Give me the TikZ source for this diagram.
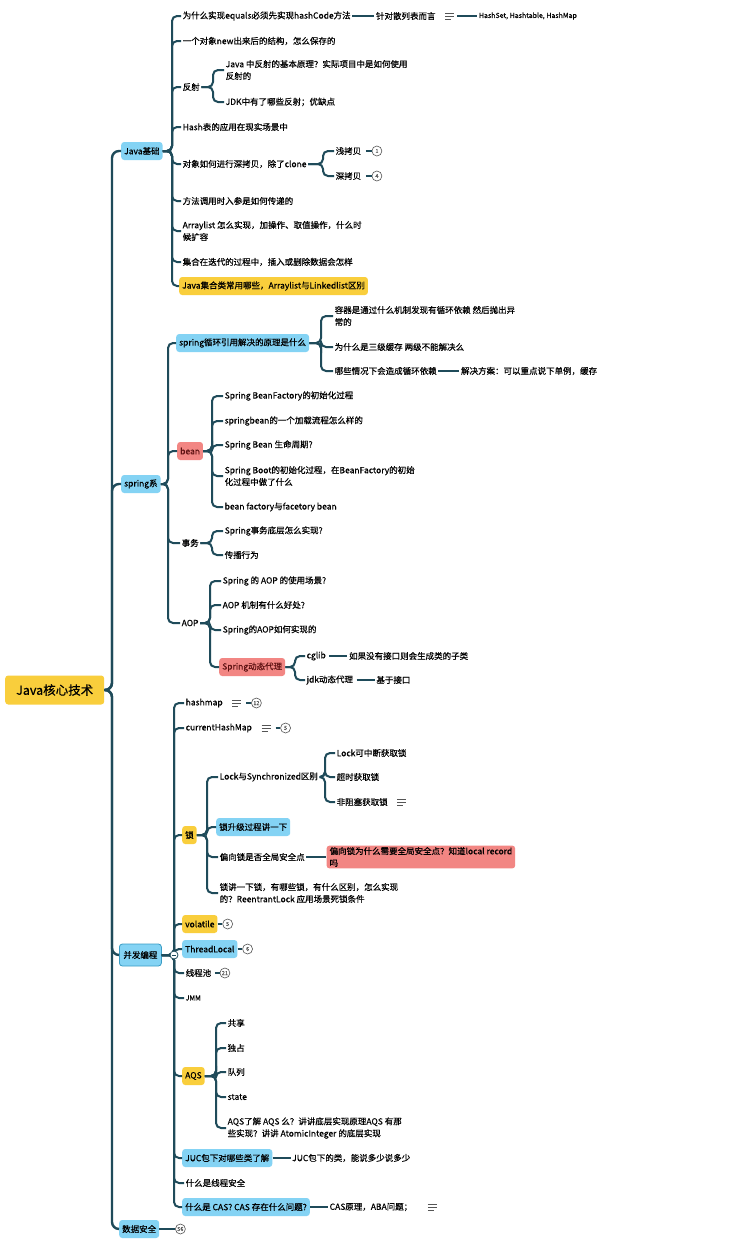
\documentclass[tikz,border=0pt]{standalone}
\usepackage{fontspec}
\setmainfont{Noto Sans CJK SC}[FakeBold=0.5]
\definecolor{lineC}{HTML}{1F4B5A}
\definecolor{lineB}{HTML}{3A9CC4}
\definecolor{yelC}{HTML}{F9CE3C}
\definecolor{bluC}{HTML}{84D3F4}
\definecolor{redC}{HTML}{F28683}
\definecolor{redT}{HTML}{5E1212}
\definecolor{iconC}{HTML}{555555}
\newcommand\fs{\fontsize{8.5}{12}\selectfont}
\newcommand\fsm{\fontsize{7}{9}\selectfont}
\tikzset{
 conn/.style={draw=lineC, line width=2pt, rounded corners=5pt},
 mainconn/.style={draw=lineC, line width=2.4pt, rounded corners=7pt},
 tx/.style={anchor=west, inner sep=1.5pt, font=\fs, text=black},
 ml/.style={align=left},
 bx/.style={tx, inner xsep=3pt, minimum height=18pt, rounded corners=3pt},
 yb/.style={bx, fill=yelC},
 bb/.style={bx, fill=bluC},
 rb/.style={bx, fill=redC},
 bub/.style={circle, draw=iconC, line width=0.6pt, minimum size=10pt, inner sep=0pt, font=\fontsize{5.5}{6}\selectfont, text=iconC, fill=white, anchor=center},
 bubl/.style={draw=lineC, line width=1.4pt},
 icn/.style={draw=iconC, line width=0.9pt},
}
\newcommand\br[3]{\draw[conn] (#1.east) -- (#1.east -| #3) |- (#2.west);}
\newcommand\mbr[3]{\draw[mainconn] (#1.east) -- (#1.east -| #3) |- (#2.west);}
\newcommand\nicon[2]{\draw[icn] ([xshift=#2]#1.east) ++(0,-3) -- ++(9,0) ++(-9,3) -- ++(9,0) ++(-9,3) -- ++(6,0);}
\newcommand\bubble[4]{\node[bub] (#2) at ([xshift=#3]#1.east) {#4};}
\begin{document}
\begin{tikzpicture}[x=1pt,y=-1pt]
\fill[white] (0,0) rectangle (735,1254);
\useasboundingbox (0,0) rectangle (735,1254);

% ---------- root and level 1 ----------
\node[yb, font=\fontsize{12.5}{14}\selectfont, minimum width=99pt, minimum height=29pt, align=center] (root) at (5,690) {Java核心技术};
\coordinate (T0) at (112,0);
\node[bb] (L1) at (121,151) {Java基础};
\node[bb] (L2) at (121,484) {spring系};
\node[bb, draw=lineB, line width=0.8pt, minimum height=22pt, inner xsep=4pt] (L3) at (119,955) {并发编程};
\node[bb] (L4) at (119,1229) {数据安全};
\mbr{root}{L1}{T0}
\mbr{root}{L2}{T0}
\mbr{root}{L3}{T0}
\mbr{root}{L4}{T0}
\bubble{L4}{b56}{21pt}{56}
\draw[bubl] (L4.east) -- (b56.west);

% ---------- Java基础 ----------
\coordinate (TJ) at (172,0);
\node[tx] (j1) at (181,16) {为什么实现equals必须先实现hashCode方法};
\node[tx] (j1a) at ([xshift=22pt]j1.east) {针对散列表而言};
\nicon{j1a}{8pt}
\node[tx, font=\fsm] (j1b) at ([xshift=40pt]j1a.east) {HashSet, Hashtable, HashMap};
\draw[conn] (j1.east) -- (j1a.west);
\draw[conn] ([xshift=20pt]j1a.east) -- (j1b.west);
\node[tx] (j2) at (181,41) {一个对象new出来后的结构，怎么保存的};
\node[tx] (j3) at (181,87) {反射};
\coordinate (TJ3) at (213,0);
\node[tx,ml] (j3a) at (224,70) {Java 中反射的基本原理？实际项目中是如何使用\\反射的};
\node[tx] (j3b) at (224,102) {JDK中有了哪些反射；优缺点};
\br{j3}{j3a}{TJ3}
\br{j3}{j3b}{TJ3}
\node[tx] (j4) at (181,127) {Hash表的应用在现实场景中};
\node[tx] (j5) at (181,164) {对象如何进行深拷贝，除了clone};
\coordinate (TJ5) at (323,0);
\node[tx] (j5a) at (334,151) {浅拷贝};
\node[tx] (j5b) at (334,176) {深拷贝};
\br{j5}{j5a}{TJ5}
\br{j5}{j5b}{TJ5}
\bubble{j5a}{bj5a}{14pt}{1}
\bubble{j5b}{bj5b}{14pt}{4}
\draw[bubl] ([xshift=3pt]j5a.east) -- (bj5a.west);
\draw[bubl] ([xshift=3pt]j5b.east) -- (bj5b.west);
\node[tx] (j6) at (181,201) {方法调用时入参是如何传递的};
\node[tx,ml] (j7) at (181,231) {Arraylist 怎么实现，加操作、取值操作，什么时\\候扩容};
\node[tx] (j8) at (181,262) {集合在迭代的过程中，插入或删除数据会怎样};
\node[yb] (j9) at (179,286) {Java集合类常用哪些，Arraylist与Linkedlist区别};
\foreach \c in {j1,j2,j3,j4,j5,j6,j7,j8,j9} {\br{L1}{\c}{TJ}}

% ---------- spring系 ----------
\coordinate (TS) at (168,0);
\node[bb] (s1) at (176,343) {spring循环引用解决的原理是什么};
\coordinate (TS1) at (321,0);
\node[tx,ml] (s1a) at (333,316) {容器是通过什么机制发现有循环依赖 然后抛出异\\常的};
\node[tx] (s1b) at (333,347) {为什么是三级缓存 两级不能解决么};
\node[tx] (s1c) at (333,371) {哪些情况下会造成循环依赖};
\node[tx] (s1d) at ([xshift=21pt]s1c.east) {解决方案：可以重点说下单例，缓存};
\draw[conn] (s1c.east) -- (s1d.west);
\foreach \c in {s1a,s1b,s1c} {\br{s1}{\c}{TS1}}

\node[rb, text=redT] (s2) at (177,451) {bean};
\coordinate (TS2) at (212,0);
\node[tx] (s2a) at (223,396) {Spring BeanFactory的初始化过程};
\node[tx] (s2b) at (223,421) {springbean的一个加载流程怎么样的};
\node[tx] (s2c) at (223,445) {Spring Bean 生命周期?};
\node[tx,ml] (s2d) at (223,476) {Spring Boot的初始化过程，在BeanFactory的初始\\化过程中做了什么};
\node[tx] (s2e) at (223,507) {bean factory与facetory bean};
\foreach \c in {s2a,s2b,s2c,s2d,s2e} {\br{s2}{\c}{TS2}}

\node[tx] (s3) at (180,543) {事务};
\node[tx] (s3a) at (223,531) {Spring事务底层怎么实现?};
\node[tx] (s3b) at (223,555) {传播行为};
\br{s3}{s3a}{TS2}
\br{s3}{s3b}{TS2}

\node[tx] (s4) at (180,623) {AOP};
\coordinate (TS4) at (210,0);
\node[tx] (s4a) at (221,581) {Spring 的 AOP 的使用场景?};
\node[tx] (s4b) at (221,605) {AOP 机制有什么好处?};
\node[tx] (s4c) at (221,630) {Spring的AOP如何实现的};
\node[rb, text=redT] (s4d) at (219,667) {Spring动态代理};
\foreach \c in {s4a,s4b,s4c,s4d} {\br{s4}{\c}{TS4}}
\coordinate (TS4d) at (295,0);
\node[tx] (s4e) at (305,656) {cglib};
\node[tx] (s4f) at ([xshift=20pt]s4e.east) {如果没有接口则会生成类的子类};
\node[tx] (s4g) at (305,680) {jdk动态代理};
\node[tx] (s4h) at ([xshift=20pt]s4g.east) {基于接口};
\br{s4d}{s4e}{TS4d}
\br{s4d}{s4g}{TS4d}
\draw[conn] ([xshift=2pt]s4e.east) -- (s4f.west);
\draw[conn] ([xshift=2pt]s4g.east) -- (s4h.west);
\foreach \c in {s1,s2,s3,s4} {\br{L2}{\c}{TS}}

% ---------- 并发编程 ----------
\coordinate (TC) at (174,0);
\node[tx] (c1) at (184,703) {hashmap};
\nicon{c1}{8pt}
\bubble{c1}{bc1}{32pt}{12}
\draw[bubl] ([xshift=22pt]c1.east) -- (bc1.west);
\node[tx] (c2) at (184,728) {currentHashMap};
\nicon{c2}{8pt}
\bubble{c2}{bc2}{32pt}{5}
\draw[bubl] ([xshift=22pt]c2.east) -- (bc2.west);

\node[yb] (c3) at (182,835) {锁};
\coordinate (TC3) at (207,0);
\node[tx] (c3a) at (218,777) {Lock与Synchronized区别};
\coordinate (TC3a) at (325,0);
\node[tx] (c3a1) at (335,753) {Lock可中断获取锁};
\node[tx] (c3a2) at (335,777) {超时获取锁};
\node[tx] (c3a3) at (335,802) {非阻塞获取锁};
\nicon{c3a3}{8pt}
\foreach \c in {c3a1,c3a2,c3a3} {\br{c3a}{\c}{TC3a}}
\node[bb] (c3b) at (216,827) {锁升级过程讲一下};
\node[tx] (c3c) at (218,857) {偏向锁是否全局安全点};
\node[rb, ml] (c3d) at ([xshift=20pt]c3c.east) {偏向锁为什么需要全局安全点？知道local record\\吗};
\draw[conn] (c3c.east) -- (c3d.west);
\node[tx,ml] (c3e) at (218,893) {锁讲一下锁，有哪些锁，有什么区别，怎么实现\\的？ReentrantLock 应用场景死锁条件};
\foreach \c in {c3a,c3b,c3c,c3e} {\br{c3}{\c}{TC3}}

\node[yb] (c4) at (182,924) {volatile};
\bubble{c4}{bc4}{10pt}{5}
\draw[bubl] (c4.east) -- (bc4.west);
\node[bb] (c5) at (182,949) {ThreadLocal};
\bubble{c5}{bc5}{10pt}{6}
\draw[bubl] (c5.east) -- (bc5.west);
\node[tx] (c6) at (184,973) {线程池};
\bubble{c6}{bc6}{12pt}{21}
\draw[bubl] ([xshift=2pt]c6.east) -- (bc6.west);
\node[tx, font=\fsm] (c7) at (184,998) {JMM};

\node[yb] (c8) at (182,1076) {AQS};
\coordinate (TC8) at (216,0);
\node[tx] (c8a) at (226,1023) {共享};
\node[tx] (c8b) at (226,1048) {独占};
\node[tx] (c8c) at (226,1072) {队列};
\node[tx] (c8d) at (226,1097) {state};
\node[tx,ml] (c8e) at (226,1128) {AQS了解 AQS 么？讲讲底层实现原理AQS 有那\\些实现？讲讲 AtomicInteger 的底层实现};
\foreach \c in {c8a,c8b,c8c,c8d,c8e} {\br{c8}{\c}{TC8}}

\node[bb] (c9) at (182,1158) {JUC包下对哪些类了解};
\node[tx] (c9a) at ([xshift=18pt]c9.east) {JUC包下的类，能说多少说多少};
\draw[conn] (c9.east) -- (c9a.west);
\node[tx] (c10) at (184,1183) {什么是线程安全};
\node[bb] (c11) at (182,1207) {什么是 CAS? CAS 存在什么问题?};
\node[tx] (c11a) at ([xshift=18pt]c11.east) {CAS原理，ABA问题；};
\draw[conn] (c11.east) -- (c11a.west);
\nicon{c11a}{14pt}

\foreach \c in {c1,c2,c3,c4,c5,c6,c7,c8,c9,c10,c11} {\br{L3}{\c}{TC}}
\node[circle, draw=lineC, fill=white, line width=0.8pt, minimum size=8pt, inner sep=0pt] (col) at (174,955) {};
\draw[draw=lineC, line width=0.8pt] ([xshift=-2.2pt]col.center) -- ([xshift=2.2pt]col.center);
\end{tikzpicture}
\end{document}
